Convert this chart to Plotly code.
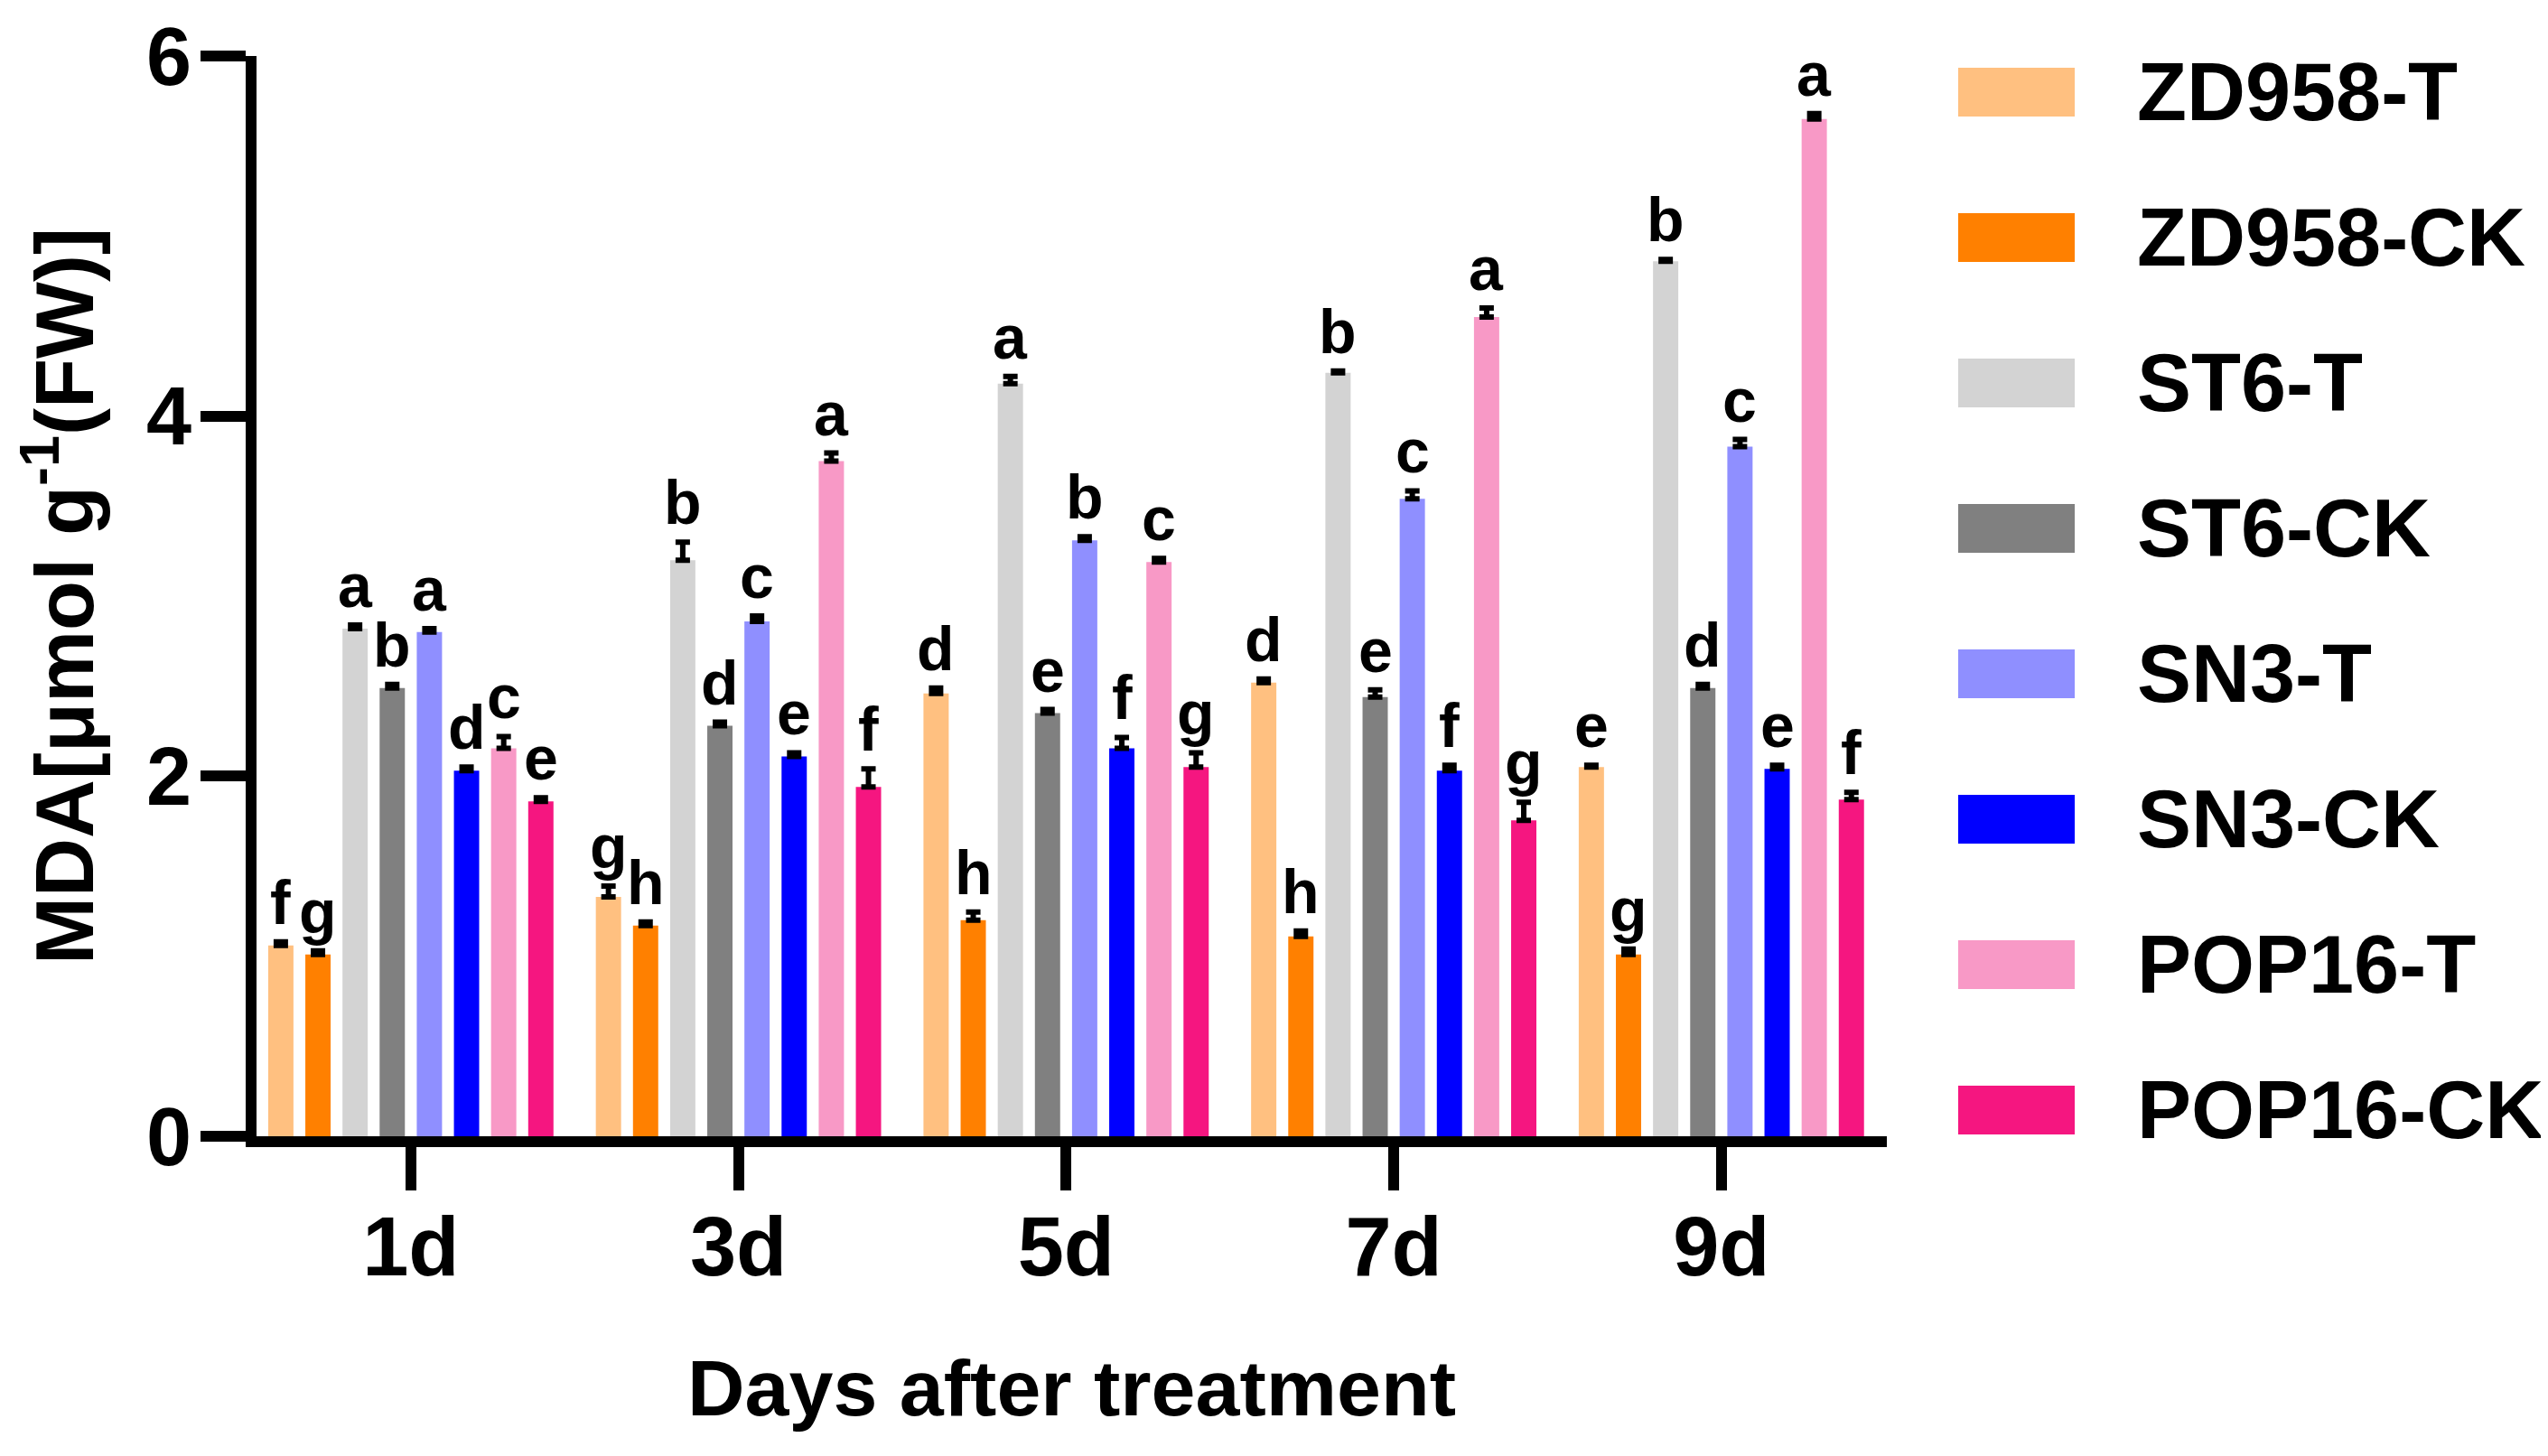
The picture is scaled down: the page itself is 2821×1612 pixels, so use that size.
import plotly.graph_objects as go

days = ["1d", "3d", "5d", "7d", "9d"]
series = ["ZD958-T", "ZD958-CK", "ST6-T", "ST6-CK", "SN3-T", "SN3-CK", "POP16-T", "POP16-CK"]
colors = ["#FFC080", "#FF8000", "#D3D3D3", "#808080", "#8F8FFF", "#0000FF", "#F899C6", "#F51680"]

zd958_t = [1.06, 1.33, 2.46, 2.52, 2.05]
zd958_ck = [1.01, 1.17, 1.20, 1.11, 1.01]
st6_t = [2.82, 3.20, 4.18, 4.24, 4.86]
st6_ck = [2.49, 2.28, 2.35, 2.44, 2.49]
sn3_t = [2.80, 2.86, 3.31, 3.54, 3.83]
sn3_ck = [2.03, 2.11, 2.155, 2.03, 2.04]
pop16_t = [2.155, 3.75, 3.19, 4.55, 5.65]
pop16_ck = [1.86, 1.94, 2.05, 1.755, 1.87]

zd958_t_err = [0.02, 0.06, 0.03, 0.02, 0.01]
zd958_ck_err = [0.02, 0.02, 0.045, 0.03, 0.03]
st6_t_err = [0.02, 0.10, 0.04, 0.01, 0.01]
st6_ck_err = [0.02, 0.02, 0.02, 0.04, 0.02]
sn3_t_err = [0.02, 0.03, 0.02, 0.045, 0.04]
sn3_ck_err = [0.02, 0.02, 0.06, 0.03, 0.02]
pop16_t_err = [0.065, 0.045, 0.02, 0.05, 0.03]
pop16_ck_err = [0.02, 0.10, 0.08, 0.10, 0.04]

zd958_t_sig = ["f", "g", "d", "d", "e"]
zd958_ck_sig = ["g", "h", "h", "h", "g"]
st6_t_sig = ["a", "b", "a", "b", "b"]
st6_ck_sig = ["b", "d", "e", "e", "d"]
sn3_t_sig = ["a", "c", "b", "c", "c"]
sn3_ck_sig = ["d", "e", "f", "f", "e"]
pop16_t_sig = ["c", "a", "c", "a", "a"]
pop16_ck_sig = ["e", "f", "g", "g", "f"]

values = [zd958_t, zd958_ck, st6_t, st6_ck, sn3_t, sn3_ck, pop16_t, pop16_ck]
errors = [zd958_t_err, zd958_ck_err, st6_t_err, st6_ck_err, sn3_t_err, sn3_ck_err, pop16_t_err, pop16_ck_err]
sigs = [zd958_t_sig, zd958_ck_sig, st6_t_sig, st6_ck_sig, sn3_t_sig, sn3_ck_sig, pop16_t_sig, pop16_ck_sig]

FONT = "Arial, Liberation Sans, sans-serif"
W, H = 2821, 1612
ML, MR, MT, MB = 276, 740, 54, 362
BODY_X, BODY_Y = 2, 8  # page offset of the figure
BARGAP = 0.093
GROUPGAP = 0.32

fig = go.Figure()
for name, col, v, e in zip(series, colors, values, errors):
    fig.add_trace(go.Bar(
        x=days, y=v, name=name, marker=dict(color=col, line=dict(width=0)),
        error_y=dict(type="data", symmetric=False, array=e, arrayminus=[0] * len(e),
                     color="black", thickness=6, width=8),
        showlegend=False,
    ))

n = len(series)
slot = (1 - BARGAP) / n
for i, (v, e, s) in enumerate(zip(values, errors, sigs)):
    for j in range(len(days)):
        xpos = j - (1 - BARGAP) / 2 + (i + 0.5) * slot
        fig.add_annotation(x=xpos, y=v[j] + e[j] + 0.02, text=s[j], showarrow=False,
                           xref="x", yref="y", yanchor="bottom", xanchor="center",
                           font=dict(family=FONT, size=68, color="black", weight="bold"))

# legend drawn as swatches + labels (page pixel positions -> paper coords)
plot_w = W - ML - MR
plot_h = H - MT - MB
def px_x(p):
    return (p - BODY_X - ML) / plot_w
def px_y(p):
    return (H - MB - (p - BODY_Y)) / plot_h

for i, (name, col) in enumerate(zip(series, colors)):
    yc = 102 + 161 * i
    fig.add_shape(type="rect", xref="paper", yref="paper",
                  x0=px_x(2162), x1=px_x(2291), y0=px_y(yc + 27), y1=px_y(yc - 27),
                  fillcolor=col, line=dict(width=0))
    fig.add_annotation(x=px_x(2358), y=px_y(yc), xref="paper", yref="paper",
                       text=name, showarrow=False, xanchor="left", yanchor="middle",
                       font=dict(family=FONT, size=90, color="black", weight="bold"))

fig.update_layout(
    width=W, height=H, autosize=False,
    margin=dict(l=ML, r=MR, t=MT, b=MB, pad=0),
    plot_bgcolor="white", paper_bgcolor="white",
    barmode="group", bargap=BARGAP, bargroupgap=GROUPGAP,
    font=dict(family=FONT, color="black"),
    xaxis=dict(
        type="category", range=[-0.471, 4.505],
        showline=True, linecolor="black", linewidth=12,
        ticks="outside", ticklen=48, tickwidth=12, tickcolor="black",
        ticklabelstandoff=-16,
        tickfont=dict(family=FONT, size=92, color="black", weight="bold"),
        showgrid=False, zeroline=False, automargin=False,
        title=dict(text="Days after treatment", standoff=80,
                   font=dict(family=FONT, size=88, color="black", weight="bold")),
    ),
    yaxis=dict(
        range=[0, 6], tickvals=[0, 2, 4, 6],
        showline=True, linecolor="black", linewidth=12,
        ticks="outside", ticklen=50, tickwidth=12, tickcolor="black",
        ticklabelstandoff=-8,
        tickfont=dict(family=FONT, size=90, color="black", weight="bold"),
        showgrid=False, zeroline=False, automargin=False,
        title=dict(text="MDA[μmol g<sup>-1</sup>(FW)]", standoff=35,
                   font=dict(family=FONT, size=90, color="black", weight="bold")),
    ),
)

fig.write_html("out.html")
